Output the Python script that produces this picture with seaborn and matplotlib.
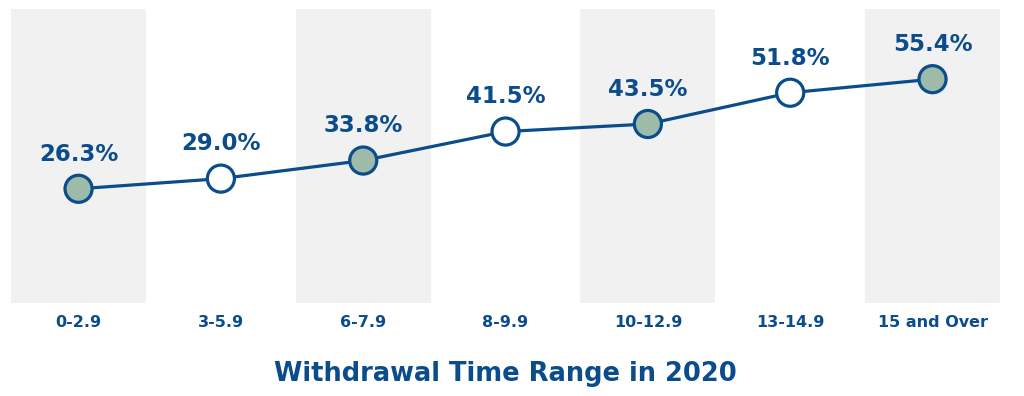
import seaborn as sns
import matplotlib.pyplot as plt
import pandas as pd

sns.set_style("white")
plt.rcParams['font.family'] = ['DejaVu Sans']

ranges = ["0-2.9", "3-5.9", "6-7.9", "8-9.9", "10-12.9", "13-14.9", "15 and Over"]
pct = [26.3, 29.0, 33.8, 41.5, 43.5, 51.8, 55.4]
shade = ["band", "plain", "band", "plain", "band", "plain", "band"]

blue = "#0b4c8c"
df = pd.DataFrame({"pos": range(len(ranges)), "pct": pct, "shade": shade})

fig = plt.figure(figsize=(10.24, 3.96), dpi=100)
ax = fig.add_axes([0.0107, 0.235, 0.966, 0.742])

# gray bands behind every other category
for i, s in enumerate(shade):
    if s == "band":
        ax.axvspan(i - 0.475, i + 0.475, color="#f1f1f1", lw=0, zorder=0)

sns.lineplot(data=df, x="pos", y="pct", color=blue, lw=2.3, ax=ax, zorder=2)
sns.scatterplot(data=df, x="pos", y="pct", hue="shade",
                palette={"band": "#9dbba8", "plain": "white"},
                s=380, edgecolor=blue, linewidth=2.3, legend=False, ax=ax, zorder=3)

for i, v in enumerate(pct):
    ax.annotate(f"{v:.1f}%", (i, v), xytext=(0, 25), textcoords="offset points",
                ha="center", va="center", fontsize=16.5, fontweight="bold", color=blue)

ax.set_xlim(-0.475, 6.475)
ax.set_ylim(-4, 74)
ax.set_xticks(range(len(ranges)))
ax.set_xticklabels(ranges, fontsize=11.5, fontweight="bold", color=blue)
ax.tick_params(axis="x", length=0, pad=9)
ax.set_yticks([])
ax.set_ylabel("")
ax.set_xlabel("Withdrawal Time Range in 2020", fontsize=18.5, fontweight="bold",
              color=blue, labelpad=22)
sns.despine(left=True, bottom=True)

fig.savefig("out.png", dpi=100)
